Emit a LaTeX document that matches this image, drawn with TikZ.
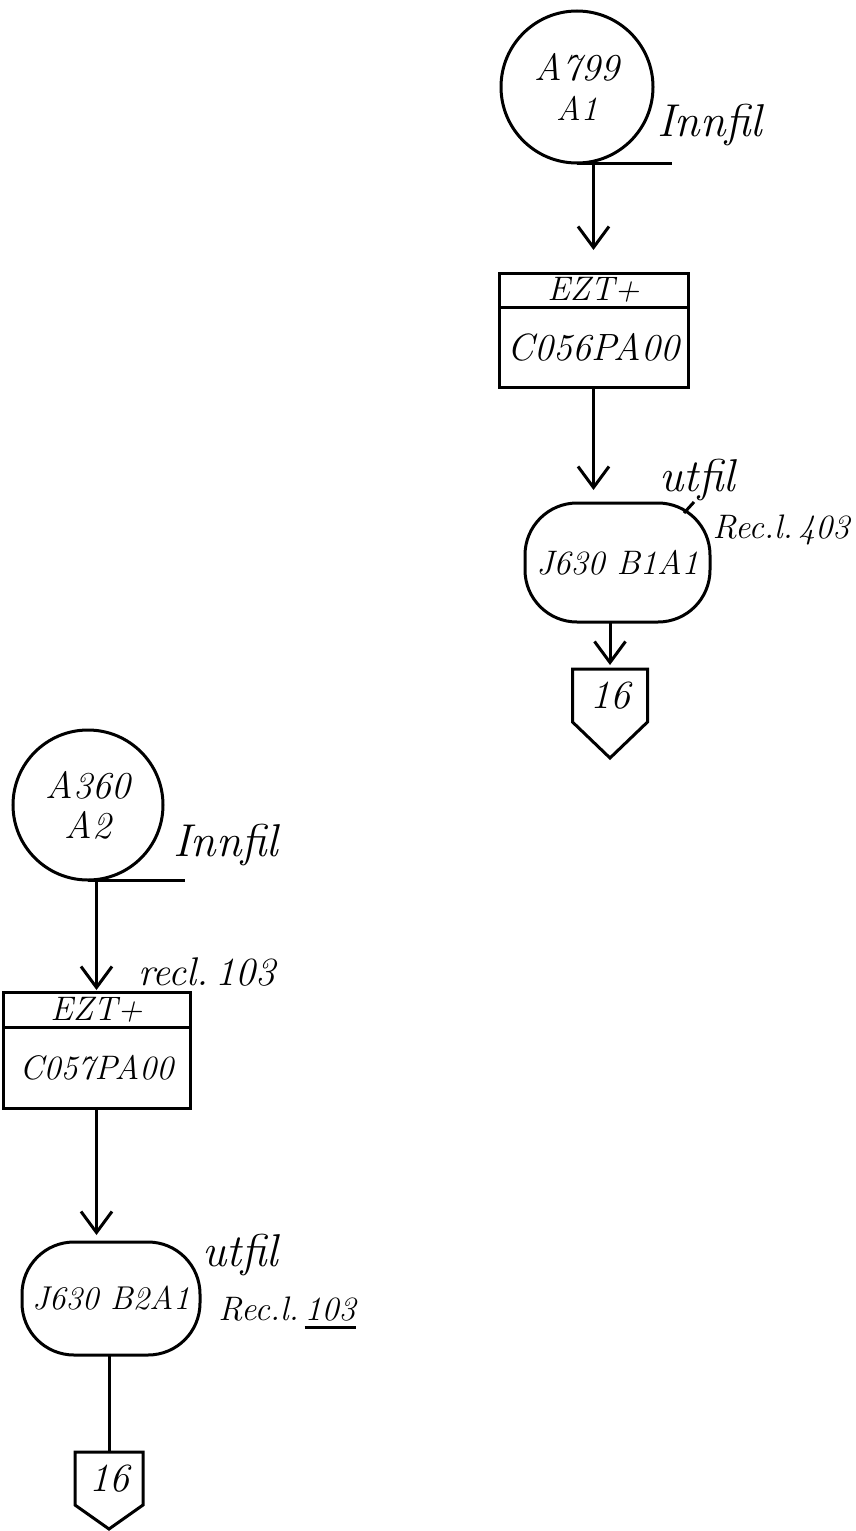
\documentclass[tikz,border=0pt]{standalone}
\usepackage{tikz}
\usetikzlibrary{arrows.meta,positioning,calc}
\newcommand{\hwunderline}[1]{\setbox0=\hbox{#1}\rlap{\rule[-9pt]{\wd0}{3pt}}\box0}
\tikzset{
  flowarr/.style={-{Straight Barb[length=21pt,width=31pt]}, line width=3pt},
  flowline/.style={line width=3pt},
  tapefile/.style={circle, draw, line width=3pt, minimum size=152pt, inner sep=0pt,
                   outer sep=0pt, align=center, font=\itshape\fontsize{38}{40}\selectfont},
  hdrbox/.style={draw, line width=3pt, minimum width=189pt, minimum height=34pt,
                 inner sep=0pt, outer sep=0pt, font=\itshape\fontsize{34}{34}\selectfont},
  pgmbox/.style={draw, line width=3pt, minimum width=189pt, minimum height=80pt,
                 inner sep=0pt, outer sep=0pt, font=\itshape\fontsize{38}{40}\selectfont},
  termbox/.style={draw, line width=3pt, rounded corners=52pt, minimum width=185pt,
                  minimum height=119pt, inner sep=0pt, outer sep=0pt,
                  font=\itshape\fontsize{34}{36}\selectfont},
  offpage/.style={minimum width=75pt, minimum height=53pt, inner sep=0pt, outer sep=0pt,
                  font=\itshape\fontsize{40}{40}\selectfont},
  note/.style={inner sep=0pt, font=\itshape\fontsize{46}{48}\selectfont},
}
\begin{document}
\begin{tikzpicture}[x=1pt, y=-1pt]
  \useasboundingbox (0,0) rectangle (856,1531);
  % first run (top right)
  \node[tapefile] (a799) at (577,87) {A799\\{\fontsize{34}{40}\selectfont A1}};
  \coordinate (a799end) at ($(a799.south)+(95,0)$);
  \draw[flowline] (a799.south) -- (a799end);
  \node[note] (innfil1) at (710,125) {Innfil};
  \node[hdrbox, below=110pt of a799, xshift=16.5pt] (ezt1) {EZT+};
  \node[pgmbox, below=0pt of ezt1] (pgm1) {C056PA00};
  \node[termbox, below=116pt of pgm1, xshift=24pt] (b1a1) {J630 B1A1};
  \node[offpage, below=47pt of b1a1, xshift=-7.5pt] (c16a) {16};
  \draw[flowline] (c16a.north west) -- (c16a.north east) -- (c16a.south east)
    -- ($(c16a.south)+(0,36)$) -- (c16a.south west) -- cycle;
  \draw[flowarr, shorten >=23pt] (ezt1.north |- a799.south) -- (ezt1.north);
  \draw[flowarr, shorten >=13pt] (pgm1.south) -- (pgm1.south |- b1a1.north);
  \draw[flowarr, shorten >=4pt] (c16a.north |- b1a1.south) -- (c16a.north);
  \node[note] (utfil1) at (697,480) {utfil};
  \node[note, font=\itshape\fontsize{34}{36}\selectfont] (rec1) at (781,530) {Rec.l.\,403};
  \coordinate (tick1a) at (684,513);
  \coordinate (tick1b) at (694,502);
  \draw[flowline] (tick1a) -- (tick1b);

  % second run (bottom left)
  \node[tapefile, minimum size=150pt] (a360) at (88,805) {A360\\A2};
  \coordinate (a360end) at ($(a360.south)+(97,0)$);
  \draw[flowline] (a360.south) -- (a360end);
  \node[note] (innfil2) at (226,845) {Innfil};
  \node[hdrbox, minimum width=187pt, minimum height=35pt, below=112pt of a360, xshift=8.5pt] (ezt2) {EZT+};
  \node[pgmbox, minimum width=187pt, minimum height=81pt, below=0pt of ezt2,
        font=\itshape\fontsize{34}{36}\selectfont] (pgm2) {C057PA00};
  \node[note, font=\itshape\fontsize{40}{42}\selectfont] (recl2) at (207,972) {recl.\,103};
  \node[termbox, minimum width=178pt, minimum height=113pt, below=134pt of pgm2, xshift=14.5pt,
        font=\itshape\fontsize{33}{35}\selectfont] (b2a1) {J630 B2A1};
  \node[offpage, minimum width=68pt, below=97pt of b2a1, xshift=-2pt] (c16b) {16};
  \draw[flowline] (c16b.north west) -- (c16b.north east) -- (c16b.south east)
    -- ($(c16b.south)+(0,24)$) -- (c16b.south west) -- cycle;
  \draw[flowarr, shorten >=2pt] (ezt2.north |- a360.south) -- (ezt2.north);
  \draw[flowarr, shorten >=7pt] (pgm2.south) -- (pgm2.south |- b2a1.north);
  \draw[flowline] (c16b.north |- b2a1.south) -- (c16b.north);
  \node[note] (utfil2) at (240,1255) {utfil};
  \node[note, font=\itshape\fontsize{34}{36}\selectfont] (rec2) at (287,1313) {Rec.l.\,\hwunderline{103}};
\end{tikzpicture}
\end{document}
